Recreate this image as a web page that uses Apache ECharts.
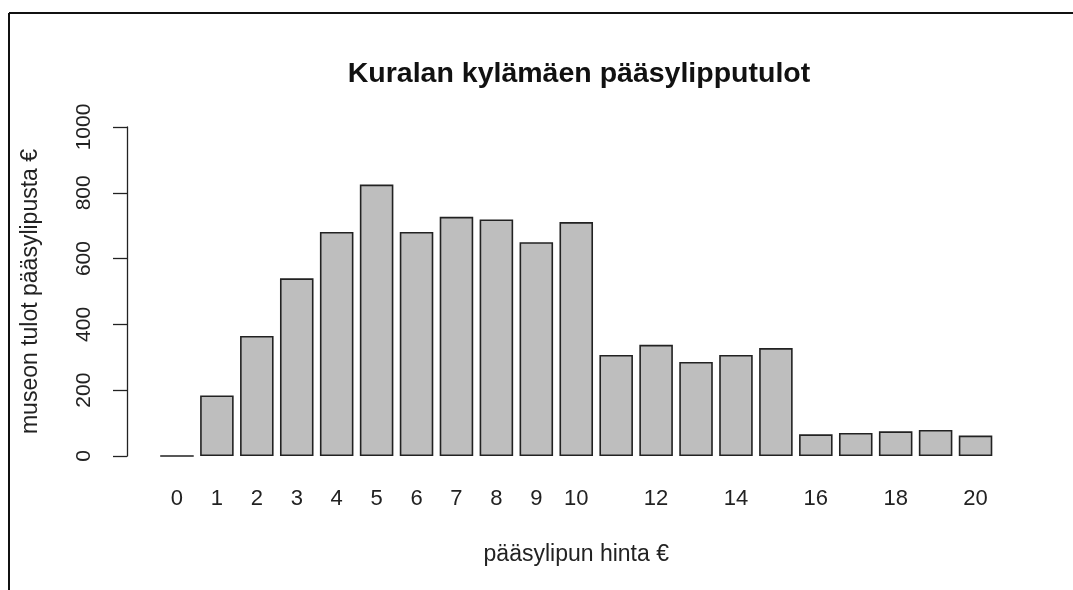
<!DOCTYPE html>
<html>
<head>
<meta charset="utf-8">
<script src="https://cdn.jsdelivr.net/npm/echarts@6/dist/echarts.min.js"></script>
<style>
html,body{margin:0;padding:0;background:#fff;}
#chart{width:1073px;height:590px;}
</style>
</head>
<body>
<div id="chart"></div>
<script>
const titleText = "Kuralan kylämäen pääsylipputulot";
const xName = "pääsylipun hinta €";
const yName = "museon tulot pääsylipusta €";
const prices = ["0","1","2","3","4","5","6","7","8","9","10","11","12","13","14","15","16","17","18","19","20"];
const revenue = [0,184,365,540,681,825,681,727,719,650,711,307,338,286,307,328,66,70,75,79,62];
const yTicks = {min:0, max:1000, interval:200};

const FONT = "'Liberation Sans', Arial, sans-serif";
const chart = echarts.init(document.getElementById('chart'), null, {renderer:'canvas'});
chart.setOption({
  animation:false,
  backgroundColor:'#ffffff',
  title:{
    text:titleText, left:574, top:55, textAlign:'center',
    textStyle:{fontFamily:FONT, fontSize:28.5, fontWeight:'bold', color:'#111'}
  },
  grid:{left:157, right:77.5, top:127, bottom:134, containLabel:false},
  xAxis:{
    type:'category', data:prices,
    axisLine:{show:false}, axisTick:{show:false},
    axisLabel:{
      interval:function(i){return i<=10 || i%2===0;},
      margin:32, fontFamily:FONT, fontSize:22, color:'#222'
    },
    name:xName, nameLocation:'middle', nameGap:87,
    nameTextStyle:{fontFamily:FONT, fontSize:23, color:'#222'}
  },
  yAxis:{
    type:'value', min:yTicks.min, max:yTicks.max, interval:yTicks.interval,
    offset:30,
    splitLine:{show:false},
    axisLine:{show:true, lineStyle:{color:'#222', width:1.3}},
    axisTick:{show:true, length:14, lineStyle:{color:'#222', width:1.3}},
    axisLabel:{rotate:90, margin:32, fontFamily:FONT, fontSize:21, color:'#222',
      formatter:function(v){return String(v);}},
    name:yName, nameLocation:'middle', nameGap:85,
    nameTextStyle:{fontFamily:FONT, fontSize:23, color:'#222'}
  },
  series:[{
    type:'bar', data:revenue, barCategoryGap:'16%',
    itemStyle:{color:'#bebebe', borderColor:'#222', borderWidth:1.6}
  }],
  graphic:[
    {type:'line', shape:{x1:9, y1:13, x2:1073, y2:13}, style:{stroke:'#111', lineWidth:2}},
    {type:'line', shape:{x1:9, y1:13, x2:9, y2:590}, style:{stroke:'#111', lineWidth:2}}
  ]
});
</script>
</body>
</html>
